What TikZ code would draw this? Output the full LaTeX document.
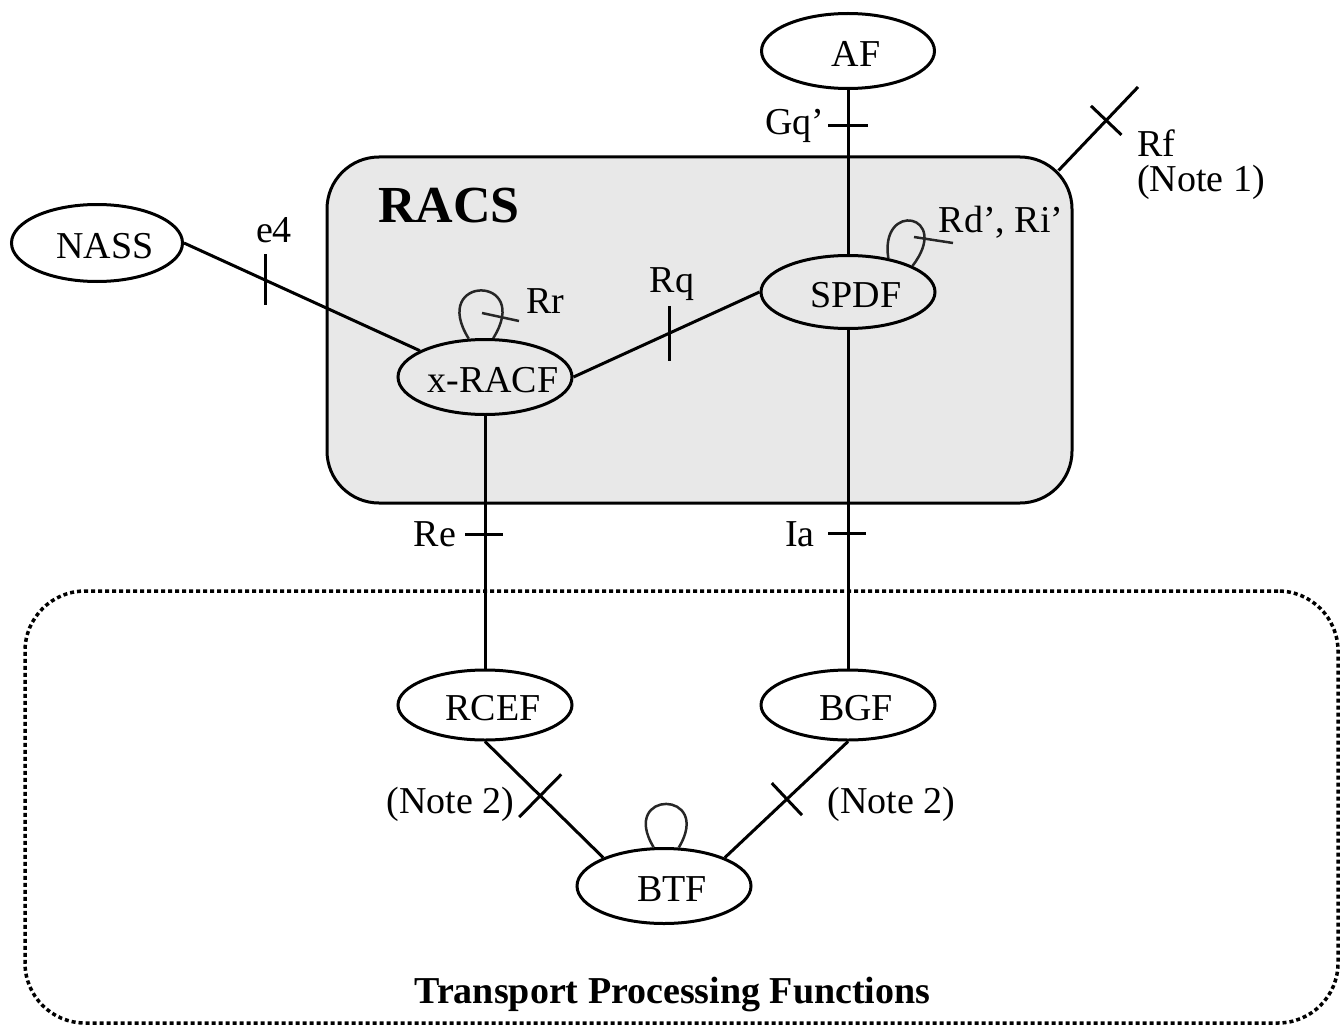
\documentclass[tikz,border=0pt]{standalone}
\usepackage{fontspec}
\setmainfont{Liberation Serif}
\usetikzlibrary{calc,shapes.geometric}
\newcommand\etext[1]{\makebox[0pt]{\kern16pt\raisebox{0pt}[\dimexpr\height+6pt\relax][\depth]{#1}}}
\begin{document}
\begin{tikzpicture}[x=1pt,y=-1pt,
  ell/.style={ellipse, draw, line width=3pt, inner sep=0pt, minimum width=174pt, minimum height=74pt, font=\fontsize{38}{40}\selectfont},
  conn/.style={line width=3pt},
  tickline/.style={line width=3pt},
  loopline/.style={line width=2.5pt, black!85},
  lab/.style={font=\fontsize{38}{40}\selectfont, inner sep=0pt, anchor=base}]
\useasboundingbox (0,0) rectangle (1340,1027);
\fill[white] (0,0) rectangle (1340,1027);
% frames
\node[draw, line width=3.5pt, dash pattern=on 4pt off 3pt, rounded corners=60pt, minimum width=1313pt, minimum height=432pt, inner sep=0pt] (tpf) at (681.5,807) {};
\node[draw, fill=black!9, line width=3pt, rounded corners=52pt, minimum width=745pt, minimum height=346pt, inner sep=0pt] (racs) at (699.5,330) {};
\node[font=\fontsize{52}{54}\selectfont\bfseries, inner sep=0pt, anchor=base] (racslab) at (449,222) {RACS};
\node[font=\fontsize{38}{40}\selectfont\bfseries, inner sep=0pt, anchor=base] (tpflab) at (672.5,1003) {Transport Processing Functions};
% ellipses
\node[ell, minimum width=173pt, minimum height=75pt] (af) at (848,51) {\etext{AF}};
\node[ell, minimum width=171pt, minimum height=77pt] (nass) at (97,243) {\etext{NASS}};
\node[ell, minimum height=73pt] (spdf) at (848,292) {\etext{SPDF}};
\node[ell, minimum height=75pt] (racf) at (485,377) {\etext{x-RACF}};
\node[ell, minimum height=70pt] (rcef) at (485,705) {\etext{RCEF}};
\node[ell, minimum height=70pt] (bgf) at (848,705) {\etext{BGF}};
\node[ell, minimum height=75pt] (btf) at (664,886) {\etext{BTF}};
% connectors
\draw[conn] (af.south) -- (spdf.north);
\draw[tickline] ($(af.south)!0.219!(spdf.north)$) +(-20,0) -- +(20,0);
\draw[conn] (nass.east) -- (racf.158);
\draw[tickline] ($(nass.east)!0.344!(racf.158)$) +(0,-26) -- +(0,25);
\draw[conn] (racf.east) -- (spdf.west);
\draw[tickline] ($(racf.east)!0.518!(spdf.west)$) +(0,-27) -- +(0,28);
\draw[conn] (racf.south) -- (rcef.north);
\draw[tickline] ($(racf.south)!0.468!(rcef.north)$) +(-20,0) -- +(18,0);
\draw[conn] (spdf.south) -- (bgf.north);
\draw[tickline] ($(spdf.south)!0.602!(bgf.north)$) +(-20,0) -- +(18,0);
\draw[conn] (rcef.south) -- (btf.155);
\coordinate (m1) at ($(rcef.south)!0.467!(btf.155)$);
\draw[tickline] ($(m1)!30pt!90:(btf.155)$) -- ($(m1)!30pt!-90:(btf.155)$);
\draw[conn] (bgf.south) -- (btf.25);
\coordinate (m2) at ($(bgf.south)!0.496!(btf.25)$);
\draw[tickline] ($(m2)!22pt!90:(btf.25)$) -- ($(m2)!22pt!-90:(btf.25)$);
\coordinate (rfa) at ($(racs.north east)+(-15,15)$);
\coordinate (rfb) at (1138,87);
\draw[conn] (rfa) -- (rfb);
\coordinate (m3) at ($(rfa)!0.6!(rfb)$);
\draw[tickline] ($(m3)!21pt!90:(rfb)$) -- ($(m3)!21pt!-90:(rfb)$);
% loops
\draw[loopline] (racf.113) .. controls +(-40,-64) and +(40,-64) .. (racf.78);
\draw[loopline] (482,313) -- (519,321);
\draw[loopline] (spdf.40) .. controls +(-9,-58) and +(40,-52) .. (spdf.22);
\draw[loopline] (914,237) -- (953,243);
\draw[loopline] (btf.105) .. controls +(-35,-58) and +(35,-58) .. (btf.69);
% labels
\node[lab] (lgq) at (795,135) {Gq’};
\node[lab] (le4) at (274,242) {e4};
\node[lab] (lrr) at (545,313) {Rr};
\node[lab] (lrq) at (672,292) {Rq};
\node[lab] (lrd) at (1001,232) {Rd’, Ri’};
\node[lab, anchor=base west, align=left, font=\fontsize{38}{35}\selectfont] (lrf) at (1137,191) {Rf\\(Note 1)};
\node[lab] (lre) at (435,546) {Re};
\node[lab] (lia) at (800,546) {Ia};
\node[lab] (ln2a) at (450.5,813) {(Note 2)};
\node[lab] (ln2b) at (891.5,813) {(Note 2)};
\end{tikzpicture}
\end{document}
